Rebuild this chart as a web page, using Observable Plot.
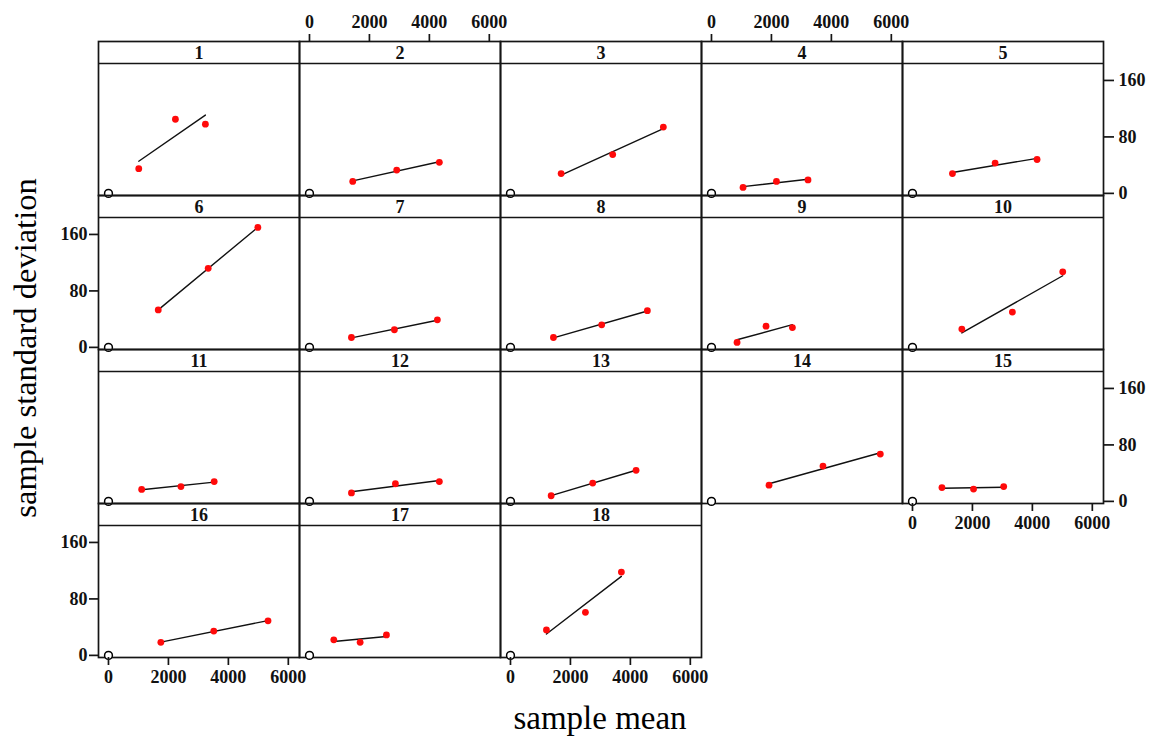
<!DOCTYPE html>
<html>
<head>
<meta charset="utf-8">
<script src="https://cdn.jsdelivr.net/npm/d3@7"></script>
<script src="https://cdn.jsdelivr.net/npm/@observablehq/plot@0.6"></script>
<style>
  body { margin: 0; background: #fff; }
  #wrap { position: relative; width: 1153px; height: 739px; overflow: hidden; background: #fff;
          font-family: "Liberation Serif", "Times New Roman", serif; color: #000; }
  .panel { position: absolute; }
  .panel svg { display: block; }
  #ylab { position: absolute; left: 25px; top: 348px; transform: translate(-50%, -50%) rotate(-90deg);
          white-space: nowrap; font-size: 32.5px; line-height: 1; }
  #xlab { position: absolute; left: 600px; top: 702px; transform: translateX(-50%);
          white-space: nowrap; font-size: 33px; line-height: 1; }
</style>
</head>
<body>
<div id="wrap">
  <div id="ylab">sample standard deviation</div>
  <div id="xlab">sample mean</div>
</div>
<script>
// ---- data ----
const panelLabels = ["1","2","3","4","5","6","7","8","9","10","11","12","13","14","15","16","17","18"];
const sampleMeans = [
  [1010, 2233, 3233],
  [1443, 2910, 4333],
  [1690, 3410, 5100],
  [1053, 2167, 3220],
  [1333, 2757, 4157],
  [1660, 3327, 4983],
  [1400, 2833, 4267],
  [1433, 3043, 4567],
  [853, 1820, 2700],
  [1647, 3333, 5013],
  [1107, 2417, 3527],
  [1400, 2867, 4333],
  [1357, 2743, 4190],
  [1920, 3720, 5633],
  [983, 2037, 3043],
  [1747, 3513, 5323],
  [811, 1690, 2567],
  [1200, 2500, 3700]
];
const sampleSDs = [
  [35, 105, 98],
  [17, 33, 44],
  [28, 55, 94],
  [8.5, 17, 19],
  [28, 43, 48],
  [53, 112, 170],
  [14, 25, 39],
  [14, 32, 52],
  [7, 30, 28],
  [26, 50, 107],
  [17, 21, 28],
  [12, 25, 28],
  [8, 26, 44],
  [23, 50, 67],
  [19.5, 17.5, 21],
  [18.5, 34.5, 49],
  [22, 18.5, 29],
  [36, 61, 118]
];
const originPoint = [{mean: 0, sd: 0}];
const xTicks = [0, 2000, 4000, 6000];
const yTicks = [0, 80, 160];
const xDomain = [-333, 6373];
const yDomain = [-3, 184];

// ---- layout ----
const COLS = 5;
const W = 201, H = 154, STRIP = 22;
const X0 = 98, Y0 = 40.5;
const lineColor = "#151515";
const lw = 1.7;

const wrap = document.getElementById("wrap");

panelLabels.forEach((label, i) => {
  const r = Math.floor(i / COLS), c = i % COLS;
  const lastInCol = i + COLS >= panelLabels.length;
  const hasTop = r === 0 && c % 2 === 1;
  const hasBottom = lastInCol && c % 2 === 0;
  const hasRight = c === COLS - 1 && r % 2 === 0;
  const hasLeft = c === 0 && r % 2 === 1;
  const mT = hasTop ? 42 : 2, mB = hasBottom ? 42 : 2;
  const mL = hasLeft ? 50 : 2, mR = hasRight ? 52 : 2;

  const data = sampleMeans[i].map((m, j) => ({mean: m, sd: sampleSDs[i][j]}));

  const marks = [
    Plot.frame({stroke: lineColor, strokeWidth: lw}),
    Plot.ruleY([yDomain[1]], {stroke: lineColor, strokeWidth: lw}),
    Plot.text([label], {text: d => d, frameAnchor: "top", lineAnchor: "middle", dy: 11.5, fontSize: 18, fontWeight: "bold", fill: "#111"}),
    Plot.dot(originPoint, {x: "mean", y: "sd", r: 3.9, stroke: "#000", fill: "#fff", strokeWidth: 1.5}),
    Plot.linearRegressionY(data, {x: "mean", y: "sd", ci: 0, stroke: "#111", strokeWidth: 1.4}),
    Plot.dot(data, {x: "mean", y: "sd", r: 3.4, fill: "#ff0a0a", stroke: "none"})
  ];
  const axisStyle = {tickFormat: "d", label: null, stroke: lineColor, strokeWidth: lw, fill: "#111", fontSize: 18, fontWeight: "bold"};
  if (hasTop) marks.push(Plot.axisX({anchor: "top", ticks: xTicks, tickSize: 8, tickPadding: 6, ...axisStyle}));
  if (hasBottom) marks.push(Plot.axisX({anchor: "bottom", ticks: xTicks, tickSize: 8, tickPadding: 5, ...axisStyle}));
  if (hasRight) marks.push(Plot.axisY({anchor: "right", ticks: yTicks, tickSize: 10, tickPadding: 5, ...axisStyle}));
  if (hasLeft) marks.push(Plot.axisY({anchor: "left", ticks: yTicks, tickSize: 9, tickPadding: 2, ...axisStyle}));

  const chart = Plot.plot({
    width: W + mL + mR,
    height: H + mT + mB,
    marginTop: mT, marginBottom: mB, marginLeft: mL, marginRight: mR,
    x: {domain: xDomain, axis: null},
    y: {domain: yDomain, insetTop: STRIP, axis: null},
    style: {
      background: "transparent",
      overflow: "visible",
      fontFamily: "'Liberation Serif', 'Times New Roman', serif",
      fontSize: "18px",
      fontWeight: "bold",
      color: "#000"
    },
    marks
  });
  const div = document.createElement("div");
  div.className = "panel";
  div.style.left = (X0 + c * W - mL) + "px";
  div.style.top = (Y0 + r * H - mT) + "px";
  div.style.width = (W + mL + mR) + "px";
  div.appendChild(chart);
  wrap.appendChild(div);
});
</script>
</body>
</html>
